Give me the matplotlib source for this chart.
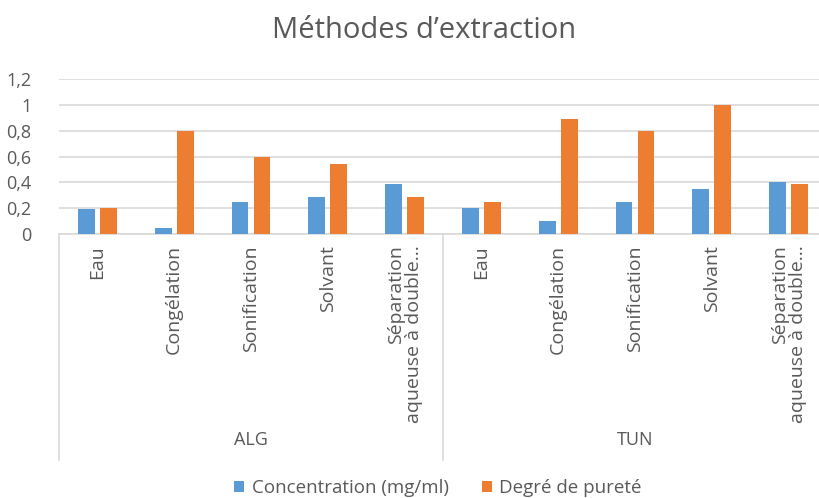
import matplotlib
matplotlib.use("Agg")
import matplotlib.pyplot as plt
import matplotlib.transforms as mtransforms
import numpy as np

plt.rcParams['font.family'] = ['Open Sans', 'DejaVu Sans']

groups = ["ALG", "TUN"]
methods = ["Eau", "Congélation", "Sonification", "Solvant", "Séparation\naqueuse à double…"]
concentration = [0.19, 0.05, 0.25, 0.29, 0.39, 0.20, 0.10, 0.25, 0.35, 0.40]
purete = [0.20, 0.80, 0.60, 0.54, 0.29, 0.25, 0.89, 0.80, 1.00, 0.39]
series_names = ["Concentration (mg/ml)", "Degré de pureté"]
yticks = [0, 0.2, 0.4, 0.6, 0.8, 1.0, 1.2]
ytick_labels = ["0", "0,2", "0,4", "0,6", "0,8", "1", "1,2"]

blue = "#5B9BD5"
orange = "#ED7D31"
txt = "#595959"
grid = "#D9D9D9"

W, H = 819, 498
fig = plt.figure(figsize=(W / 100, H / 100), dpi=100)
left, right, top, bottom = 59, 827, 79, 234
ax = fig.add_axes([left / W, 1 - bottom / H, (right - left) / W, (bottom - top) / H])

n = len(concentration)
x = np.arange(n)
bw = 0.22
off = 0.143
ax.bar(x - off, concentration, bw, color=blue, label=series_names[0], zorder=3)
ax.bar(x + off, purete, bw, color=orange, label=series_names[1], zorder=3)

ax.set_xlim(-0.5, n - 0.5)
ax.set_ylim(0, 1.2)
ax.set_yticks(yticks)
ax.set_yticklabels(ytick_labels, fontsize=13, color=txt)
ax.yaxis.grid(True, color=grid, linewidth=1.2, zorder=0)
ax.set_axisbelow(True)
ax.tick_params(axis='y', length=0, pad=20)
ax.tick_params(axis='x', length=0, labelbottom=False)
for s in ["top", "right", "left"]:
    ax.spines[s].set_visible(False)
ax.spines["bottom"].set_color(grid)
ax.spines["bottom"].set_linewidth(1.2)

trans = mtransforms.blended_transform_factory(ax.transData, ax.transAxes)
axh = bottom - top
# category labels
for i in range(n):
    ax.text(i, -11 / axh, methods[i % len(methods)], rotation=90, ha='center', va='top',
            multialignment='right', fontsize=14, color=txt, transform=trans, linespacing=1.0)
# group labels and separators
ylow = -(460 - bottom) / axh
for g, name in enumerate(groups):
    ax.text(g * 5 + 2, -(440 - bottom) / axh, name, ha='center', va='center',
            fontsize=13, color=txt, transform=trans)
for b in [-0.5, 4.5, 9.5]:
    ax.plot([b, b], [0, ylow], color=grid, linewidth=1.2, transform=trans, clip_on=False)

fig.text(424 / W, 1 - 31 / H, "Méthodes d’extraction", ha='center', va='center',
         fontsize=21, color=txt)

fig.legend(loc='center', bbox_to_anchor=(438 / W, 1 - 488 / H), ncol=2, frameon=False,
           fontsize=13.5, labelcolor=txt, handlelength=0.55, handleheight=0.55,
           handletextpad=0.4, columnspacing=1.75, borderpad=0.2)

fig.savefig("out.png", dpi=100)
